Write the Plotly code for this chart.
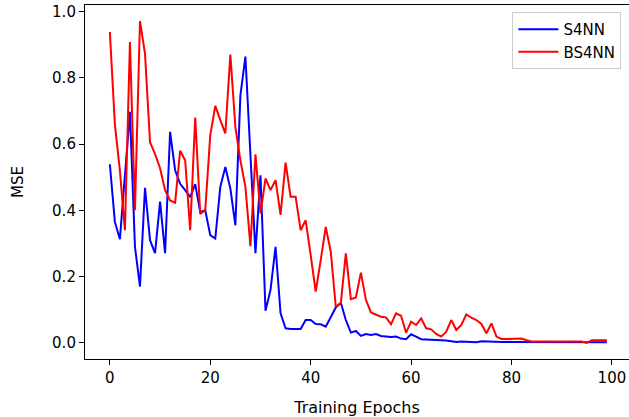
import plotly.graph_objects as go

epochs = list(range(100))

s4nn = [0.539, 0.365, 0.313, 0.52, 0.697, 0.29, 0.17, 0.468, 0.31, 0.271,
        0.426, 0.271, 0.637, 0.521, 0.48, 0.461, 0.44, 0.479, 0.395, 0.40,
        0.325, 0.315, 0.471, 0.531, 0.466, 0.355, 0.747, 0.864, 0.56, 0.271,
        0.506, 0.097, 0.16, 0.29, 0.089, 0.044, 0.042, 0.042, 0.042, 0.069,
        0.069, 0.057, 0.056, 0.049, 0.079, 0.107, 0.121, 0.069, 0.031, 0.036,
        0.021, 0.027, 0.024, 0.027, 0.021, 0.019, 0.018, 0.019, 0.013, 0.011,
        0.026, 0.019, 0.011, 0.010, 0.010, 0.008, 0.008, 0.007, 0.004, 0.003,
        0.004, 0.004, 0.003, 0.002, 0.005, 0.004, 0.004, 0.003, 0.003, 0.003,
        0.003, 0.003, 0.002, 0.002, 0.002, 0.002, 0.002, 0.002, 0.002, 0.002,
        0.002, 0.002, 0.002, 0.002, 0.002, 0.002, 0.002, 0.002, 0.002, 0.002]

bs4nn = [0.938, 0.66, 0.52, 0.34, 0.908, 0.40, 0.971, 0.873, 0.606, 0.57,
         0.527, 0.461, 0.43, 0.423, 0.58, 0.551, 0.34, 0.68, 0.389, 0.40,
         0.627, 0.715, 0.672, 0.632, 0.87, 0.652, 0.551, 0.471, 0.292, 0.569,
         0.391, 0.496, 0.461, 0.491, 0.386, 0.544, 0.441, 0.441, 0.34, 0.37,
         0.265, 0.155, 0.25, 0.35, 0.275, 0.109, 0.12, 0.27, 0.132, 0.137,
         0.212, 0.13, 0.092, 0.086, 0.079, 0.077, 0.056, 0.089, 0.082, 0.031,
         0.064, 0.054, 0.074, 0.044, 0.041, 0.027, 0.019, 0.034, 0.069, 0.039,
         0.054, 0.086, 0.076, 0.069, 0.057, 0.029, 0.059, 0.019, 0.012, 0.012,
         0.013, 0.013, 0.013, 0.008, 0.004, 0.004, 0.004, 0.004, 0.005, 0.005,
         0.004, 0.005, 0.004, 0.004, 0.004, 0.0, 0.008, 0.008, 0.008, 0.008]

x_ticks = [0, 20, 40, 60, 80, 100]
y_ticks = [0.0, 0.2, 0.4, 0.6, 0.8, 1.0]

font = "DejaVu Sans"
fs = 15

fig = go.Figure()
fig.add_trace(go.Scatter(x=epochs, y=s4nn, mode="lines", name="S4NN",
                         line=dict(color="#0000ff", width=2)))
fig.add_trace(go.Scatter(x=epochs, y=bs4nn, mode="lines", name="BS4NN",
                         line=dict(color="#ff0000", width=2)))

fig.update_layout(
    width=629, height=417,
    margin=dict(l=85, r=0, t=5, b=58),
    paper_bgcolor="white", plot_bgcolor="white",
    font=dict(family=font, size=fs, color="black"),
    showlegend=True,
    legend=dict(x=0.986, y=0.98, xanchor="right", yanchor="top",
                bgcolor="rgba(255,255,255,0.8)", bordercolor="#cccccc",
                borderwidth=1, itemwidth=40,
                font=dict(family=font, size=15)),
    xaxis=dict(range=[-4.95, 103.4], tickvals=x_ticks, ticks="outside",
               ticklen=5, tickwidth=1.1, tickcolor="black", showline=True,
               linecolor="black", linewidth=1.1, mirror=True, showgrid=False,
               zeroline=False,
               title=dict(text="Training Epochs", font=dict(size=16), standoff=18)),
    yaxis=dict(range=[-0.0486, 1.0196], tickvals=y_ticks, tickformat=".1f",
               ticks="outside", ticklen=5, tickwidth=1.1, tickcolor="black",
               showline=True, linecolor="black", linewidth=1.1, showgrid=False,
               zeroline=False,
               title=dict(text="MSE", font=dict(size=fs), standoff=24)),
)

fig.write_html("out.html")
